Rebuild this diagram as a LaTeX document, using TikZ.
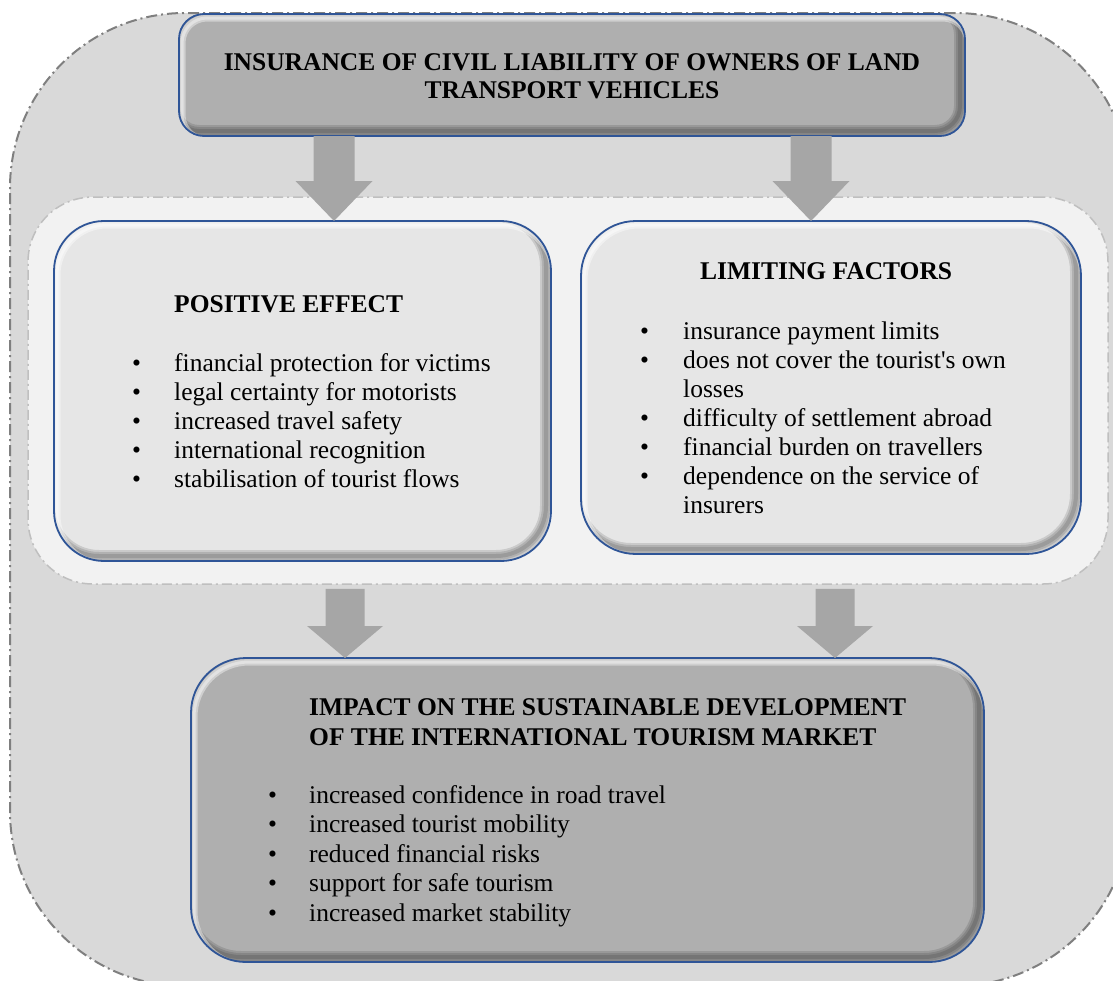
\documentclass[tikz,border=0pt]{standalone}
\usepackage{fontspec}
\setmainfont{Liberation Serif}
\usetikzlibrary{calc}

\definecolor{outerfill}{HTML}{D9D9D9}
\definecolor{outerline}{HTML}{7F7F7F}
\definecolor{groupfill}{HTML}{F2F2F2}
\definecolor{groupline}{HTML}{BFBFBF}
\definecolor{darkbox}{HTML}{AFAFAF}
\definecolor{lightbox}{HTML}{E6E6E6}
\definecolor{boxblue}{HTML}{2F5597}
\definecolor{arrowgray}{HTML}{A6A6A6}

\tikzset{
  % rounded panel with a soft bevel: light rim top-left, shadow bottom-right
  panel/.style={draw=boxblue, line width=1.8pt, rounded corners=#1,
    inner sep=0pt, outer sep=0pt,
    path picture={
      \foreach \w in {4,8,12}{
        \draw[black, opacity=0.12, line width=\w pt, rounded corners=#1]
          ([shift={(-5pt,5pt)}]path picture bounding box.south west) rectangle
          ([shift={(-5pt,5pt)}]path picture bounding box.north east);
      }
      \foreach \w in {3,7}{
        \draw[white, opacity=0.4, line width=\w pt, rounded corners=#1]
          ([shift={(3pt,-4pt)}]path picture bounding box.south west) rectangle
          ([shift={(3pt,-4pt)}]path picture bounding box.north east);
      }
    }},
  darkpanel/.style={panel=#1, fill=darkbox},
  lightpanel/.style={panel=#1, fill=lightbox},
  txt/.style={font=\fontsize{25.5}{29}\selectfont, anchor=base west, inner sep=0pt},
  headtxt/.style={txt, font=\fontsize{25.5}{29}\selectfont\bfseries},
}

% block arrow pointing down: start, end, head length, half shaft width, half head width
\newcommand\flowarrow[5]{%
  \fill[arrowgray] let \p1=(#1), \p2=(#2) in
    (\x1-#4,\y1) -- (\x1+#4,\y1) -- (\x1+#4,\y2+#3) -- (\x1+#5,\y2+#3)
    -- (\x1,\y2) -- (\x1-#5,\y2+#3) -- (\x1-#4,\y2+#3) -- cycle;}

\begin{document}
\begin{tikzpicture}[x=1pt,y=-1pt]
\clip (0,0) rectangle (1113,980);

% background areas
\node[fill=outerfill, draw=outerline, line width=2pt,
      dash pattern=on 11pt off 4pt on 2pt off 4pt, rounded corners=175pt,
      minimum width=1120pt, minimum height=973pt, inner sep=0pt] (outer) at (570,499.5) {};
\node[fill=groupfill, draw=groupline, line width=1.5pt,
      dash pattern=on 10pt off 4pt on 2pt off 4pt, rounded corners=65pt,
      minimum width=1080pt, minimum height=387pt, inner sep=0pt] (group) at (568,390.5) {};

% panels
\node[darkpanel=25pt, minimum width=786pt, minimum height=122pt] (ins) at (572,75) {};
\node[lightpanel=50pt, minimum width=497pt, minimum height=340pt] (pos) at (302.5,391) {};
\node[lightpanel=55pt, minimum width=500pt, minimum height=333pt] (lim) at (831,387.5) {};
\node[darkpanel=55pt, minimum width=793pt, minimum height=304pt] (imp) at (587.5,810) {};

% arrows
\coordinate (c1) at (334,0);
\coordinate (c2) at (811,0);
\coordinate (c3) at (345,0);
\coordinate (c4) at (835,0);
\flowarrow{c1 |- ins.south}{c1 |- pos.north}{40pt}{20.5pt}{38.5pt}
\flowarrow{c2 |- ins.south}{c2 |- lim.north}{40pt}{20.5pt}{38.5pt}
\flowarrow{$(c3 |- group.south)+(0,4)$}{c3 |- imp.north}{32pt}{19.5pt}{38pt}
\flowarrow{$(c4 |- group.south)+(0,4)$}{c4 |- imp.north}{32pt}{19.5pt}{38pt}

% title
\node[headtxt, anchor=base] (t1) at (572,70) {INSURANCE OF CIVIL LIABILITY OF OWNERS OF LAND};
\node[headtxt, anchor=base] (t2) at (572,98) {TRANSPORT VEHICLES};

% positive effect
\node[headtxt] (ph) at (174,312) {POSITIVE EFFECT};
\foreach \t [count=\i] in {financial protection for victims, legal certainty for motorists,
    increased travel safety, international recognition, stabilisation of tourist flows}
  \node[txt] (p\i) at (132,{371+29*(\i-1)}) {\makebox[42pt][l]{\textbullet}\t};

% limiting factors
\node[headtxt] (lh) at (700,279) {LIMITING FACTORS};
\foreach \b/\t [count=\i] in {1/insurance payment limits, 1/does not cover the tourist\textquotesingle s own,
    0/losses, 1/difficulty of settlement abroad, 1/financial burden on travellers,
    1/dependence on the service of, 0/insurers}
  \node[txt] (l\i) at (640,{339+29*(\i-1)}) {\makebox[43pt][l]{\ifnum\b=1 \textbullet\fi}\t};

% impact
\node[headtxt] (ih1) at (309,715) {IMPACT ON THE SUSTAINABLE DEVELOPMENT};
\node[headtxt] (ih2) at (309,745) {OF THE INTERNATIONAL TOURISM MARKET};
\foreach \t [count=\i] in {increased confidence in road travel, increased tourist mobility,
    reduced financial risks, support for safe tourism, increased market stability}
  \node[txt] (m\i) at (268,{803+29.5*(\i-1)}) {\makebox[41pt][l]{\textbullet}\t};

\end{tikzpicture}
\end{document}
